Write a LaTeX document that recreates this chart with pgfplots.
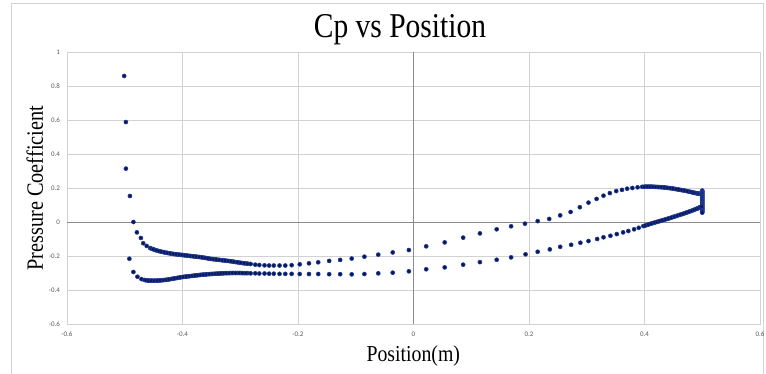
\documentclass[border=0pt]{standalone}
\usepackage{graphicx}
\usepackage{fontspec}
\setmainfont{Liberation Serif}
\newfontfamily\tickfont{Carlito}
\usepackage{pgfplots}
\pgfplotsset{compat=1.18}
\definecolor{gridc}{RGB}{210,210,210}
\definecolor{zeroc}{RGB}{140,140,140}
\definecolor{ticklab}{RGB}{89,89,89}
\definecolor{dotfill}{RGB}{12,22,90}
\definecolor{dotdraw}{RGB}{30,62,150}
\begin{document}
\begin{tikzpicture}[x=1pt,y=1pt]
\useasboundingbox (0,0) rectangle (766,373);
\draw[gridc, line width=0.8pt] (11.5,-2) -- (11.5,369.5) -- (763.5,369.5) -- (763.5,-2);
\begin{axis}[
  at={(67pt,49pt)}, anchor=south west,
  scale only axis, width=693pt, height=272pt,
  xmin=-0.6, xmax=0.6, ymin=-0.6, ymax=1,
  xtick={-0.6,-0.4,-0.2,0,0.2,0.4,0.6},
  xticklabels={-0.6,-0.4,-0.2,0,0.2,0.4,0.6},
  ytick={-0.6,-0.4,-0.2,0,0.2,0.4,0.6,0.8,1},
  yticklabels={-0.6,-0.4,-0.2,0,0.2,0.4,0.6,0.8,1},
  grid=major,
  major grid style={gridc, line width=0.8pt},
  axis line style={gridc, line width=0.8pt},
  tick style={draw=none},
  xticklabel style={font=\tickfont\fontsize{7}{8}\selectfont, text=ticklab, yshift=-4pt},
  yticklabel style={font=\tickfont\fontsize{7}{8}\selectfont, text=ticklab, xshift=-3.5pt},
  clip=false,
]
\draw[zeroc, line width=0.8pt] (axis cs:0,-0.6) -- (axis cs:0,1);
\draw[zeroc, line width=0.8pt] (axis cs:-0.6,0) -- (axis cs:0.6,0);
\addplot[only marks, mark=*, mark size=2.0pt, mark options={fill=dotfill, draw=dotdraw, line width=0.6pt}] coordinates {
(-0.501,0.859) (-0.498,0.588) (-0.498,0.314) (-0.491,0.153) (-0.485,0.000)
(-0.479,-0.061) (-0.472,-0.094) (-0.468,-0.125) (-0.462,-0.141) (-0.456,-0.153)
(-0.4535,-0.157) (-0.4485,-0.163) (-0.4435,-0.1685) (-0.4385,-0.173) (-0.4335,-0.177)
(-0.4285,-0.1805) (-0.4235,-0.1835) (-0.4185,-0.1865) (-0.4135,-0.189) (-0.4085,-0.191)
(-0.4035,-0.193) (-0.3985,-0.195) (-0.3935,-0.197) (-0.3885,-0.199) (-0.3835,-0.201)
(-0.3785,-0.203) (-0.3735,-0.205) (-0.3685,-0.207) (-0.3635,-0.2095) (-0.3585,-0.2125)
(-0.3535,-0.2155) (-0.3485,-0.218) (-0.3435,-0.220) (-0.3385,-0.222) (-0.3335,-0.224)
(-0.3285,-0.226) (-0.3235,-0.228) (-0.3185,-0.230) (-0.3135,-0.2325) (-0.308,-0.2355)
(-0.302,-0.2385) (-0.296,-0.2415) (-0.290,-0.244)
(-0.451,-0.160) (-0.446,-0.166) (-0.441,-0.171) (-0.436,-0.175) (-0.431,-0.179)
(-0.426,-0.182) (-0.421,-0.185) (-0.416,-0.188) (-0.411,-0.190) (-0.406,-0.192)
(-0.401,-0.194) (-0.396,-0.196) (-0.391,-0.198) (-0.386,-0.200) (-0.381,-0.202)
(-0.376,-0.204) (-0.371,-0.206) (-0.366,-0.208) (-0.361,-0.211) (-0.356,-0.214)
(-0.351,-0.217) (-0.346,-0.219) (-0.341,-0.221) (-0.336,-0.223) (-0.331,-0.225)
(-0.326,-0.227) (-0.321,-0.229) (-0.316,-0.231) (-0.311,-0.234) (-0.305,-0.237)
(-0.299,-0.240) (-0.293,-0.243) (-0.287,-0.245)
(-0.282,-0.247) (-0.274,-0.251) (-0.267,-0.253) (-0.258,-0.255) (-0.250,-0.256)
(-0.242,-0.256) (-0.232,-0.256) (-0.222,-0.256) (-0.211,-0.254) (-0.197,-0.249)
(-0.181,-0.243) (-0.165,-0.237) (-0.146,-0.229) (-0.127,-0.223) (-0.107,-0.215)
(-0.085,-0.204) (-0.061,-0.192) (-0.036,-0.179) (-0.008,-0.165) (0.022,-0.143)
(0.054,-0.120) (0.086,-0.092) (0.115,-0.067) (0.144,-0.043) (0.169,-0.025)
(0.193,-0.010) (0.215,0.005) (0.235,0.018) (0.254,0.039) (0.272,0.059)
(0.288,0.087) (0.303,0.114) (0.317,0.136) (0.329,0.155) (0.340,0.170)
(0.351,0.182) (0.361,0.189) (0.370,0.196) (0.379,0.200) (0.388,0.204)
(0.396,0.207) (0.402,0.208) (0.407,0.208) (0.412,0.208) (0.417,0.207)
(0.422,0.206) (0.427,0.205) (0.432,0.204) (0.437,0.202) (0.442,0.200)
(0.447,0.198) (0.452,0.195) (0.457,0.192) (0.462,0.189) (0.467,0.186)
(0.472,0.183) (0.477,0.179) (0.481,0.176) (0.485,0.173) (0.489,0.170)
(0.492,0.168) (0.495,0.166) (0.497,0.165) (0.499,0.165)
(0.3995,0.2075) (0.4045,0.208) (0.4095,0.208) (0.4145,0.2075) (0.4195,0.2065)
(0.4245,0.2055) (0.4295,0.2045) (0.4345,0.203) (0.4395,0.201) (0.4445,0.199)
(0.4495,0.1965) (0.4545,0.1935) (0.4595,0.1905) (0.4645,0.1875) (0.4695,0.1845)
(0.4745,0.181) (0.479,0.1775) (0.483,0.1745) (0.487,0.1715) (0.4905,0.169)
(0.4935,0.167) (0.496,0.1655) (0.498,0.165)
(0.500,0.185) (0.500,0.180) (0.500,0.175) (0.500,0.170) (0.500,0.165) (0.500,0.160)
(0.500,0.155) (0.500,0.150) (0.500,0.145) (0.500,0.140) (0.500,0.135) (0.500,0.130)
(0.500,0.125) (0.500,0.120) (0.500,0.115) (0.500,0.110) (0.500,0.105) (0.500,0.100)
(0.500,0.095) (0.500,0.090) (0.500,0.085) (0.500,0.080) (0.500,0.075) (0.500,0.070)
(0.500,0.065) (0.500,0.060) (0.500,0.055)
(-0.492,-0.216) (-0.485,-0.294) (-0.478,-0.322) (-0.471,-0.336)
(-0.466,-0.341) (-0.461,-0.344) (-0.456,-0.345) (-0.451,-0.345) (-0.446,-0.345)
(-0.441,-0.344) (-0.436,-0.343) (-0.431,-0.341) (-0.426,-0.339) (-0.421,-0.336)
(-0.416,-0.333) (-0.411,-0.330) (-0.406,-0.327) (-0.401,-0.324) (-0.396,-0.322)
(-0.391,-0.320) (-0.386,-0.318) (-0.381,-0.316) (-0.376,-0.314) (-0.371,-0.312)
(-0.366,-0.310) (-0.361,-0.309) (-0.356,-0.307) (-0.351,-0.306) (-0.346,-0.305)
(-0.341,-0.304) (-0.336,-0.303) (-0.331,-0.302) (-0.326,-0.301) (-0.321,-0.301)
(-0.316,-0.300) (-0.311,-0.300) (-0.305,-0.300) (-0.299,-0.300) (-0.293,-0.301)
(-0.287,-0.301)
(-0.4635,-0.3425) (-0.4585,-0.3445) (-0.4535,-0.345) (-0.4485,-0.345) (-0.4435,-0.3445)
(-0.4385,-0.3435) (-0.4335,-0.342) (-0.4285,-0.340) (-0.4235,-0.3375) (-0.4185,-0.3345)
(-0.4135,-0.3315) (-0.4085,-0.3285) (-0.4035,-0.3255) (-0.3985,-0.323) (-0.3935,-0.321)
(-0.3885,-0.319) (-0.3835,-0.317) (-0.3785,-0.315) (-0.3735,-0.313) (-0.3685,-0.311)
(-0.3635,-0.3095) (-0.3585,-0.308) (-0.3535,-0.3065) (-0.3485,-0.3055) (-0.3435,-0.3045)
(-0.3385,-0.3035) (-0.3335,-0.3025) (-0.3285,-0.3015) (-0.3235,-0.301) (-0.3185,-0.3005)
(-0.3135,-0.300) (-0.308,-0.300) (-0.302,-0.300) (-0.296,-0.3005) (-0.290,-0.301)
(-0.282,-0.302) (-0.274,-0.302) (-0.267,-0.303) (-0.258,-0.303) (-0.250,-0.304)
(-0.242,-0.304) (-0.232,-0.305) (-0.222,-0.305) (-0.211,-0.305) (-0.197,-0.306)
(-0.181,-0.306) (-0.165,-0.306) (-0.146,-0.307) (-0.127,-0.307) (-0.107,-0.308)
(-0.085,-0.306) (-0.061,-0.302) (-0.036,-0.298) (-0.008,-0.290) (0.022,-0.278)
(0.054,-0.267) (0.086,-0.251) (0.115,-0.236) (0.144,-0.222) (0.169,-0.208)
(0.194,-0.190) (0.215,-0.175) (0.236,-0.161) (0.254,-0.146) (0.273,-0.134)
(0.289,-0.122) (0.303,-0.112) (0.318,-0.100) (0.329,-0.090) (0.341,-0.081)
(0.352,-0.071) (0.363,-0.061) (0.372,-0.053) (0.382,-0.043) (0.390,-0.034)
(0.398,-0.024) (0.404,-0.018) (0.409,-0.012) (0.414,-0.007) (0.419,-0.002)
(0.424,0.003) (0.429,0.008) (0.434,0.013) (0.439,0.018) (0.444,0.023)
(0.449,0.029) (0.454,0.034) (0.459,0.040) (0.464,0.045) (0.469,0.051)
(0.474,0.057) (0.479,0.063) (0.484,0.069) (0.488,0.075) (0.492,0.080)
(0.495,0.085) (0.498,0.089)
(0.401,-0.021) (0.4065,-0.015) (0.4115,-0.0095) (0.4165,-0.0045) (0.4215,0.0005)
(0.4265,0.0055) (0.4315,0.0105) (0.4365,0.0155) (0.4415,0.0205) (0.4465,0.026)
(0.4515,0.0315) (0.4565,0.037) (0.4615,0.0425) (0.4665,0.048) (0.4715,0.054)
(0.4765,0.060) (0.4815,0.066) (0.486,0.072) (0.490,0.0775) (0.4935,0.0825)
(0.4965,0.087) (0.499,0.091)
};
\end{axis}
\node[anchor=base, inner sep=0pt] at (400,335.5) {\scalebox{1}[1.18]{\fontsize{29.5}{32}\selectfont Cp vs Position}};
\node[anchor=base, inner sep=0pt] at (413.3,11.5) {\scalebox{1}[1.15]{\fontsize{19.8}{22}\selectfont Position(m)}};
\node[anchor=base, inner sep=0pt, rotate=90] at (43,184.7) {\scalebox{1}[1.15]{\fontsize{20.3}{22}\selectfont Pressure Coefficient}};
\end{tikzpicture}
\end{document}
